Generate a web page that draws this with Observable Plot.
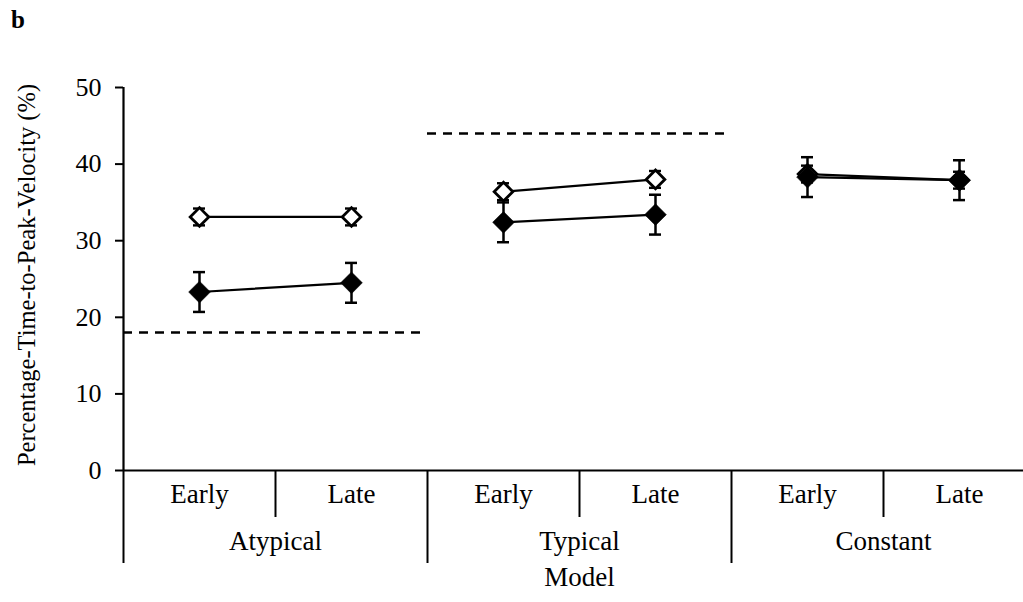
<!DOCTYPE html>
<html><head><meta charset="utf-8">
<script src="https://cdn.jsdelivr.net/npm/d3@7"></script>
<script src="https://cdn.jsdelivr.net/npm/@observablehq/plot@0.6"></script>
<style>
body{margin:0;background:#fff;}
#wrap{position:relative;width:1023px;height:602px;overflow:hidden;}
#tag{position:absolute;left:11px;top:6px;font:bold 25px "Liberation Serif","Times New Roman",serif;color:#000;}
</style></head><body>
<div id="wrap"><div id="tag">b</div></div>
<script>
const models = ["Atypical", "Typical", "Constant"];
const phases = ["Early", "Late"];
const openMean = [33.1, 33.1, 36.4, 38.0, 38.7, 37.9];
const openErr = [1.1, 1.1, 1.1, 1.1, 1.1, 1.1];
const filledMean = [23.3, 24.5, 32.4, 33.4, 38.3, 37.9];
const filledErr = [2.6, 2.6, 2.6, 2.6, 2.6, 2.6];
const referenceLevel = [18, 44, null];
const yTicks = [0, 10, 20, 30, 40, 50];
const yLabel = "Percentage-Time-to-Peak-Velocity (%)";
const xLabel = "Model";

const cells = models.flatMap((m, mi) => phases.map((p, pi) => ({model: m, phase: p, pos: mi * phases.length + pi + 0.5})));
const openRows = cells.map((c, i) => ({...c, mean: openMean[i], err: openErr[i]}));
const filledRows = cells.map((c, i) => ({...c, mean: filledMean[i], err: filledErr[i]}));
const nCells = cells.length;
const phaseDiv = models.map((m, mi) => mi * phases.length + 1);
const groupDiv = models.map((m, mi) => mi * phases.length).concat([nCells]);
const refs = models.map((m, mi) => ({x1: mi * phases.length, x2: (mi + 1) * phases.length, y: referenceLevel[mi]})).filter(d => d.y != null);
const groupLabels = models.map((m, mi) => ({name: m, pos: mi * phases.length + phases.length / 2}));
const y0 = yTicks[0], yMax = yTicks[yTicks.length - 1];

const font = "'Liberation Serif', 'Times New Roman', serif";

function errBars(rows, sw) {
  return [
    Plot.ruleX(rows, {x: "pos", y1: d => d.mean - d.err, y2: d => d.mean + d.err, strokeWidth: sw}),
    Plot.ruleY(rows, {y: d => d.mean + d.err, x1: "pos", x2: "pos", insetLeft: -6, insetRight: -6, strokeWidth: sw}),
    Plot.ruleY(rows, {y: d => d.mean - d.err, x1: "pos", x2: "pos", insetLeft: -6, insetRight: -6, strokeWidth: sw})
  ];
}

const chart = Plot.plot({
  width: 1023, height: 602,
  marginTop: 87, marginBottom: 132, marginLeft: 123, marginRight: 0,
  style: {fontFamily: font, background: "white", color: "black"},
  x: {domain: [0, nCells], range: [123, 1035], axis: null},
  y: {domain: [y0, yMax], range: [470, 87], axis: null},
  marks: [
    Plot.axisY({ticks: yTicks, tickSize: 8, tickPadding: 14, fontSize: 26, strokeWidth: 2, label: null}),
    Plot.ruleX([0], {y1: () => y0, y2: () => yMax, strokeWidth: 2.2}),
    Plot.ruleY([y0], {x1: () => 0, x2: () => nCells, strokeWidth: 2.2}),
    Plot.ruleX(phaseDiv, {y1: () => y0, y2: () => y0, insetBottom: -47, strokeWidth: 2}),
    Plot.ruleX(groupDiv, {y1: () => y0, y2: () => y0, insetBottom: -93, strokeWidth: 2}),
    Plot.ruleY(refs, {y: "y", x1: "x1", x2: "x2", strokeDasharray: "9,7", strokeWidth: 2.5}),
    Plot.line(openRows, {x: "pos", y: "mean", z: "model", strokeWidth: 2.2}),
    Plot.line(filledRows, {x: "pos", y: "mean", z: "model", strokeWidth: 2.2}),
    ...errBars(openRows, 2.4),
    Plot.dot(openRows, {x: "pos", y: "mean", symbol: "diamond2", r: 8.4, fill: "white", stroke: "black", strokeWidth: 2.8}),
    ...errBars(filledRows, 2.5),
    Plot.dot(filledRows, {x: "pos", y: "mean", symbol: "diamond2", r: 9.8, fill: "black", stroke: "black", strokeWidth: 0.5}),
    Plot.text(cells, {x: "pos", text: "phase", frameAnchor: "bottom", dy: 32, fontSize: 27}),
    Plot.text(groupLabels, {x: "pos", text: "name", frameAnchor: "bottom", dy: 79, fontSize: 27}),
    Plot.text([xLabel], {x: () => nCells / 2, text: d => d, frameAnchor: "bottom", dy: 115, fontSize: 27}),
    Plot.text([yLabel], {text: d => d, frameAnchor: "left", textAnchor: "middle", dx: -96, dy: -4, rotate: -90, fontSize: 24.5})
  ]
});
document.getElementById("wrap").appendChild(chart);
</script>
</body></html>
